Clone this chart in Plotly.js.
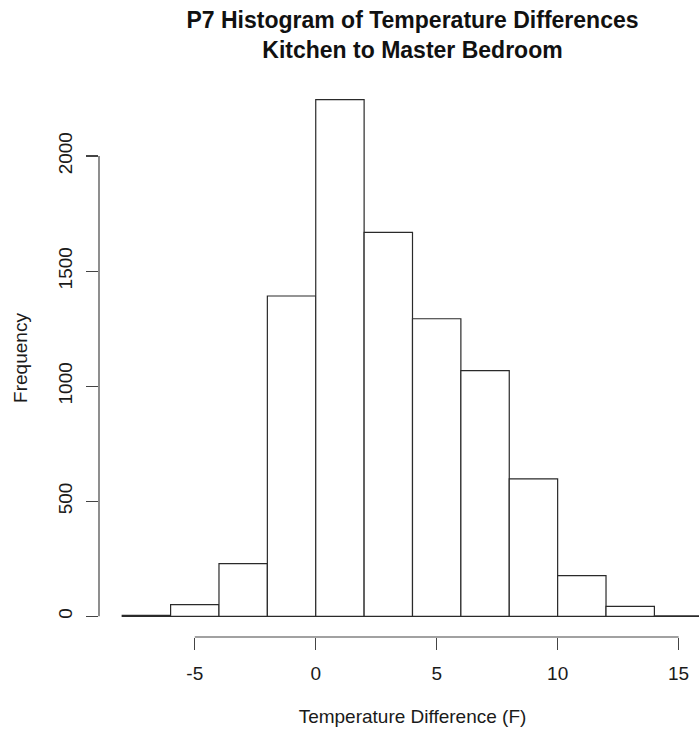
<!DOCTYPE html>
<html>
<head>
<meta charset="utf-8">
<script src="https://cdn.plot.ly/plotly-3.0.1.min.js"></script>
<style>
html, body { margin: 0; padding: 0; overflow: hidden; background: #fff; }
#chart { width: 740px; height: 734px; }
</style>
</head>
<body>
<div id="chart"></div>
<script>
// Histogram breaks (bin edges) and counts
const breaks = [-8, -6, -4, -2, 0, 2, 4, 6, 8, 10, 12, 14, 16];
const counts = [4, 51, 229, 1392, 2245, 1668, 1293, 1068, 597, 177, 43, 2];
const xTicks = [-5, 0, 5, 10, 15];
const yTicks = [0, 500, 1000, 1500, 2000];

const titleText = "P7 Histogram of Temperature Differences<br>Kitchen to Master Bedroom";
const xTitle = "Temperature Difference (F)";
const yTitle = "Frequency";

const centers = counts.map((c, i) => (breaks[i] + breaks[i + 1]) / 2);
const widths = counts.map((c, i) => breaks[i + 1] - breaks[i]);

// R-style axis extents (4% extension)
const xMin = Math.min(...breaks), xMax = Math.max(...breaks);
const xPad = (xMax - xMin) * 0.04;
const yMax = Math.max(...counts);
const yPad = yMax * 0.04;

const font = "Liberation Sans, Arial, Helvetica, sans-serif";
const txt = "#1a1a1a";

const trace = {
  type: "bar",
  x: centers,
  y: counts,
  width: widths,
  marker: { color: "#ffffff", line: { color: "#2a2a2a", width: 1.2 } },
  hoverinfo: "x+y"
};

const layout = {
  width: 740,
  height: 734,
  margin: { l: 99, r: 14, t: 79, b: 97 },
  paper_bgcolor: "#ffffff",
  plot_bgcolor: "#ffffff",
  showlegend: false,
  bargap: 0,
  font: { family: font, size: 19, color: txt },
  title: {
    text: titleText,
    font: { family: font, size: 23, weight: "bold", color: "#111" },
    x: 0.5, xref: "paper",
    y: 1 - 28 / 734, yref: "container", yanchor: "top"
  },
  xaxis: {
    range: [xMin - xPad, xMax + xPad],
    tickvals: xTicks,
    ticktext: xTicks.map(String),
    ticks: "outside", ticklen: 12, tickwidth: 1.2, tickcolor: "#444",
    showline: false, showgrid: false, zeroline: false,
    ticklabelstandoff: 7,
    tickfont: { family: font, size: 19, color: txt },
    title: { text: xTitle, font: { family: font, size: 19, color: txt }, standoff: 26 }
  },
  yaxis: {
    range: [-yPad, yMax + yPad],
    tickvals: yTicks,
    ticktext: yTicks.map(String),
    tickangle: -90,
    ticks: "outside", ticklen: 12, tickwidth: 1.2, tickcolor: "#444",
    showline: false, showgrid: false, zeroline: false,
    ticklabelstandoff: 6,
    tickfont: { family: font, size: 19, color: txt },
    title: { text: yTitle, font: { family: font, size: 19, color: txt }, standoff: 22 }
  },
  shapes: [
    { type: "line", xref: "x", yref: "paper",
      x0: Math.min(...xTicks), x1: Math.max(...xTicks), y0: 0, y1: 0,
      line: { color: "#444", width: 1.2 } },
    { type: "line", xref: "paper", yref: "y",
      x0: 0, x1: 0, y0: Math.min(...yTicks), y1: Math.max(...yTicks),
      line: { color: "#444", width: 1.2 } }
  ]
};

Plotly.newPlot("chart", [trace], layout, { displayModeBar: false, staticPlot: true });
</script>
</body>
</html>
